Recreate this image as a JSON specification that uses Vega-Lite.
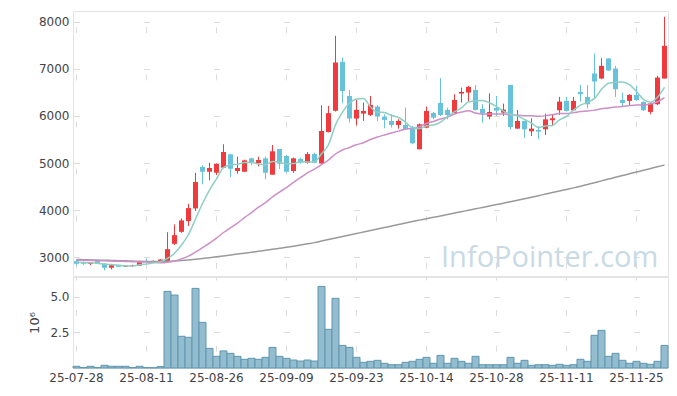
{
  "$schema": "https://vega.github.io/schema/vega-lite/v6.json",
  "padding": {"left": 28, "top": 10, "right": 5, "bottom": 5},
  "spacing": -2,
  "config": {
    "font": "DejaVu Sans",
    "view": {"stroke": "#e3e3e3"},
    "axis": {"labelFont": "DejaVu Sans", "labelFontSize": 12, "labelColor": "#444444", "domain": false, "ticks": false, "gridColor": "#dcdcdc", "gridWidth": 1, "labelPadding": 4}
  },
  "datasets": {
    "k": [
      {"d":"25-07-28","o":2915,"h":2950,"l":2825,"c":2860,"m5":2890,"m20":2935,"m120":2950,"v":0.12},
      {"d":"25-07-29","o":2890,"h":2910,"l":2830,"c":2860,"m5":2885,"m20":2932,"m120":2946,"v":0.03},
      {"d":"25-07-30","o":2860,"h":2895,"l":2830,"c":2890,"m5":2880,"m20":2929,"m120":2942,"v":0.12},
      {"d":"25-07-31","o":2930,"h":2940,"l":2850,"c":2860,"m5":2870,"m20":2926,"m120":2938,"v":0.04},
      {"d":"25-08-01","o":2865,"h":2870,"l":2720,"c":2775,"m5":2849,"m20":2922,"m120":2934,"v":0.19},
      {"d":"25-08-04","o":2775,"h":2835,"l":2740,"c":2830,"m5":2843,"m20":2918,"m120":2930,"v":0.12},
      {"d":"25-08-05","o":2835,"h":2840,"l":2790,"c":2795,"m5":2830,"m20":2914,"m120":2926,"v":0.12},
      {"d":"25-08-06","o":2800,"h":2830,"l":2790,"c":2825,"m5":2817,"m20":2910,"m120":2922,"v":0.12},
      {"d":"25-08-07","o":2810,"h":2840,"l":2800,"c":2830,"m5":2811,"m20":2905,"m120":2918,"v":0.03},
      {"d":"25-08-08","o":2820,"h":2920,"l":2815,"c":2915,"m5":2839,"m20":2900,"m120":2914,"v":0.12},
      {"d":"25-08-11","o":2920,"h":2970,"l":2900,"c":2910,"m5":2855,"m20":2895,"m120":2910,"v":0.03},
      {"d":"25-08-12","o":2915,"h":2930,"l":2905,"c":2920,"m5":2880,"m20":2888,"m120":2908,"v":0.02},
      {"d":"25-08-13","o":2910,"h":2955,"l":2905,"c":2950,"m5":2905,"m20":2882,"m120":2908,"v":0.10},
      {"d":"25-08-14","o":2915,"h":3530,"l":2910,"c":3170,"m5":2973,"m20":2893,"m120":2912,"v":5.39},
      {"d":"25-08-18","o":3283,"h":3695,"l":3260,"c":3468,"m5":3084,"m20":2920,"m120":2920,"v":5.13},
      {"d":"25-08-19","o":3538,"h":3823,"l":3517,"c":3781,"m5":3258,"m20":2964,"m120":2930,"v":2.23},
      {"d":"25-08-20","o":3766,"h":4135,"l":3660,"c":4043,"m5":3482,"m20":3021,"m120":2942,"v":2.16},
      {"d":"25-08-21","o":4036,"h":4790,"l":3980,"c":4596,"m5":3812,"m20":3106,"m120":2956,"v":5.60},
      {"d":"25-08-22","o":4915,"h":4951,"l":4547,"c":4815,"m5":4141,"m20":3202,"m120":2972,"v":3.21},
      {"d":"25-08-25","o":4815,"h":5007,"l":4632,"c":4894,"m5":4426,"m20":3299,"m120":2990,"v":1.38},
      {"d":"25-08-26","o":4794,"h":4993,"l":4745,"c":4979,"m5":4665,"m20":3405,"m120":3008,"v":0.82},
      {"d":"25-08-27","o":4900,"h":5398,"l":4900,"c":5234,"m5":4904,"m20":3524,"m120":3027,"v":1.20},
      {"d":"25-08-28","o":5185,"h":5200,"l":4702,"c":4879,"m5":4960,"m20":3623,"m120":3046,"v":1.03},
      {"d":"25-08-29","o":4830,"h":5135,"l":4773,"c":4894,"m5":4976,"m20":3725,"m120":3065,"v":0.82},
      {"d":"25-09-01","o":4815,"h":5071,"l":4815,"c":5057,"m5":5009,"m20":3839,"m120":3085,"v":0.61},
      {"d":"25-09-02","o":5100,"h":5114,"l":4950,"c":5007,"m5":5014,"m20":3948,"m120":3105,"v":0.68},
      {"d":"25-09-03","o":5000,"h":5135,"l":4930,"c":5064,"m5":4980,"m20":4061,"m120":3125,"v":0.61},
      {"d":"25-09-04","o":5100,"h":5135,"l":4653,"c":4794,"m5":4963,"m20":4160,"m120":3146,"v":0.75},
      {"d":"25-09-05","o":4752,"h":5384,"l":4752,"c":5249,"m5":5034,"m20":4281,"m120":3167,"v":1.45},
      {"d":"25-09-08","o":5298,"h":5298,"l":4872,"c":4986,"m5":5020,"m20":4384,"m120":3189,"v":0.82},
      {"d":"25-09-09","o":5149,"h":5170,"l":4794,"c":4815,"m5":4982,"m20":4479,"m120":3211,"v":0.68},
      {"d":"25-09-10","o":4830,"h":5114,"l":4794,"c":5100,"m5":4989,"m20":4588,"m120":3234,"v":0.56},
      {"d":"25-09-11","o":5085,"h":5114,"l":4986,"c":5007,"m5":5031,"m20":4691,"m120":3258,"v":0.49},
      {"d":"25-09-12","o":5007,"h":5235,"l":4986,"c":5190,"m5":5020,"m20":4792,"m120":3283,"v":0.56},
      {"d":"25-09-15","o":5190,"h":5221,"l":4994,"c":5007,"m5":5024,"m20":4869,"m120":3309,"v":0.49},
      {"d":"25-09-16","o":4990,"h":6228,"l":4985,"c":5680,"m5":5197,"m20":4964,"m120":3342,"v":5.74},
      {"d":"25-09-17","o":5660,"h":6215,"l":5650,"c":6060,"m5":5389,"m20":5065,"m120":3374,"v":2.72},
      {"d":"25-09-18","o":6110,"h":7703,"l":6093,"c":7136,"m5":5815,"m20":5192,"m120":3406,"v":4.90},
      {"d":"25-09-19","o":7150,"h":7242,"l":6270,"c":6530,"m5":6083,"m20":5278,"m120":3438,"v":1.59},
      {"d":"25-09-22","o":6425,"h":6554,"l":5859,"c":5945,"m5":6270,"m20":5330,"m120":3470,"v":1.45},
      {"d":"25-09-23","o":5945,"h":6341,"l":5802,"c":6130,"m5":6360,"m20":5388,"m120":3502,"v":0.75},
      {"d":"25-09-24","o":6050,"h":6285,"l":5895,"c":6107,"m5":6370,"m20":5431,"m120":3534,"v":0.40},
      {"d":"25-09-25","o":6022,"h":6426,"l":6000,"c":6235,"m5":6189,"m20":5499,"m120":3566,"v":0.47},
      {"d":"25-09-26","o":6200,"h":6228,"l":5895,"c":5987,"m5":6081,"m20":5554,"m120":3598,"v":0.54},
      {"d":"25-09-29","o":5987,"h":6036,"l":5738,"c":5916,"m5":6075,"m20":5597,"m120":3630,"v":0.33},
      {"d":"25-09-30","o":5894,"h":6036,"l":5753,"c":5809,"m5":6011,"m20":5637,"m120":3662,"v":0.23},
      {"d":"25-10-01","o":5809,"h":5930,"l":5731,"c":5894,"m5":5968,"m20":5678,"m120":3694,"v":0.23},
      {"d":"25-10-02","o":5809,"h":6178,"l":5703,"c":5717,"m5":5865,"m20":5724,"m120":3726,"v":0.40},
      {"d":"25-10-10","o":5753,"h":5788,"l":5398,"c":5420,"m5":5751,"m20":5733,"m120":3757,"v":0.47},
      {"d":"25-10-13","o":5292,"h":5838,"l":5290,"c":5824,"m5":5733,"m20":5775,"m120":3787,"v":0.61},
      {"d":"25-10-14","o":5752,"h":6199,"l":5738,"c":6106,"m5":5792,"m20":5840,"m120":3817,"v":0.75},
      {"d":"25-10-15","o":6064,"h":6085,"l":5929,"c":5965,"m5":5806,"m20":5883,"m120":3847,"v":0.33},
      {"d":"25-10-16","o":6277,"h":6802,"l":6000,"c":6021,"m5":5867,"m20":5934,"m120":3877,"v":0.89},
      {"d":"25-10-17","o":6128,"h":6177,"l":5929,"c":6021,"m5":5987,"m20":5975,"m120":3907,"v":0.33},
      {"d":"25-10-20","o":6064,"h":6461,"l":6050,"c":6340,"m5":6091,"m20":6042,"m120":3937,"v":0.68},
      {"d":"25-10-21","o":6475,"h":6603,"l":6284,"c":6511,"m5":6172,"m20":6083,"m120":3967,"v":0.47},
      {"d":"25-10-22","o":6497,"h":6638,"l":6298,"c":6617,"m5":6302,"m20":6111,"m120":3997,"v":0.33},
      {"d":"25-10-23","o":6553,"h":6660,"l":6114,"c":6128,"m5":6323,"m20":6061,"m120":4027,"v":0.82},
      {"d":"25-10-24","o":6149,"h":6248,"l":5858,"c":6057,"m5":6331,"m20":6037,"m120":4057,"v":0.23},
      {"d":"25-10-27","o":5986,"h":6482,"l":5929,"c":6085,"m5":6280,"m20":6044,"m120":4087,"v":0.23},
      {"d":"25-10-28","o":6170,"h":6426,"l":6000,"c":6114,"m5":6200,"m20":6043,"m120":4117,"v":0.23},
      {"d":"25-10-29","o":6071,"h":6262,"l":6000,"c":6135,"m5":6104,"m20":6045,"m120":4147,"v":0.23},
      {"d":"25-10-30","o":6660,"h":6660,"l":5716,"c":5766,"m5":6031,"m20":6021,"m120":4177,"v":0.75},
      {"d":"25-10-31","o":5731,"h":6128,"l":5731,"c":5894,"m5":5999,"m20":6017,"m120":4208,"v":0.33},
      {"d":"25-11-03","o":5894,"h":5894,"l":5532,"c":5716,"m5":5925,"m20":6007,"m120":4241,"v":0.54},
      {"d":"25-11-04","o":5674,"h":5950,"l":5574,"c":5731,"m5":5848,"m20":6003,"m120":4274,"v":0.19},
      {"d":"25-11-05","o":5702,"h":5780,"l":5504,"c":5667,"m5":5755,"m20":5992,"m120":4307,"v":0.23},
      {"d":"25-11-06","o":5716,"h":6050,"l":5596,"c":5929,"m5":5787,"m20":6002,"m120":4340,"v":0.23},
      {"d":"25-11-07","o":5909,"h":6022,"l":5788,"c":5951,"m5":5799,"m20":6029,"m120":4373,"v":0.19},
      {"d":"25-11-10","o":6121,"h":6405,"l":6020,"c":6306,"m5":5917,"m20":6053,"m120":4406,"v":0.26},
      {"d":"25-11-11","o":6320,"h":6405,"l":6093,"c":6107,"m5":5992,"m20":6053,"m120":4439,"v":0.19},
      {"d":"25-11-12","o":6121,"h":6405,"l":6107,"c":6320,"m5":6123,"m20":6071,"m120":4472,"v":0.23},
      {"d":"25-11-13","o":6511,"h":6660,"l":6306,"c":6462,"m5":6229,"m20":6093,"m120":4507,"v":0.61},
      {"d":"25-11-14","o":6405,"h":6660,"l":6164,"c":6249,"m5":6289,"m20":6104,"m120":4545,"v":0.47},
      {"d":"25-11-17","o":6902,"h":7327,"l":6391,"c":6731,"m5":6374,"m20":6124,"m120":4583,"v":2.30},
      {"d":"25-11-18","o":6795,"h":7228,"l":6781,"c":7065,"m5":6565,"m20":6152,"m120":4621,"v":2.65},
      {"d":"25-11-19","o":7221,"h":7230,"l":6960,"c":6965,"m5":6694,"m20":6169,"m120":4659,"v":0.82},
      {"d":"25-11-20","o":7008,"h":7065,"l":6405,"c":6568,"m5":6716,"m20":6191,"m120":4697,"v":1.03},
      {"d":"25-11-21","o":6341,"h":6497,"l":6192,"c":6277,"m5":6721,"m20":6202,"m120":4734,"v":0.54},
      {"d":"25-11-24","o":6320,"h":6462,"l":6213,"c":6448,"m5":6665,"m20":6220,"m120":4771,"v":0.33},
      {"d":"25-11-25","o":6448,"h":6639,"l":6320,"c":6341,"m5":6520,"m20":6231,"m120":4808,"v":0.47},
      {"d":"25-11-26","o":6299,"h":6305,"l":6107,"c":6121,"m5":6351,"m20":6231,"m120":4846,"v":0.33},
      {"d":"25-11-27","o":6086,"h":6284,"l":6036,"c":6263,"m5":6290,"m20":6256,"m120":4883,"v":0.26},
      {"d":"25-11-28","o":6249,"h":6852,"l":6235,"c":6816,"m5":6398,"m20":6302,"m120":4920,"v":0.47},
      {"d":"25-12-01","o":6795,"h":8107,"l":6795,"c":7490,"m5":6606,"m20":6390,"m120":4958,"v":1.59}
    ]
  },
  "vconcat": [
    {
      "width": 595,
      "height": 265,
      "data": {"name": "k"},
      "encoding": {
        "x": {
          "field": "d", "type": "ordinal",
          "scale": {"paddingInner": 0, "paddingOuter": 0},
          "axis": {"labels": false, "title": null, "grid": true, "bandPosition": 0.5,
                   "values": ["25-07-28","25-08-11","25-08-26","25-09-09","25-09-23","25-10-14","25-10-28","25-11-11","25-11-25"],
                   "gridDash": [6, 41.07], "gridDashOffset": 31.27}
        }
      },
      "layer": [
        {
          "data": {"values": [{"t": "InfoPointer.com"}]},
          "mark": {"type": "text", "font": "Open Sans", "fontSize": 29, "color": "#c8dae4", "align": "left", "baseline": "alphabetic", "dx": -6.5},
          "encoding": {
            "x": {"datum": "25-10-17", "type": "ordinal"},
            "y": {"datum": 2791, "type": "quantitative"},
            "text": {"field": "t"}
          }
        },
        {
          "mark": {"type": "rule", "strokeWidth": 1},
          "encoding": {
            "y": {"field": "l", "type": "quantitative", "title": null,
                  "scale": {"domain": [2600, 8230], "nice": false, "zero": false},
                  "axis": {"values": [3000, 4000, 5000, 6000, 7000, 8000], "format": "d", "title": null, "grid": true, "gridDash": [6, 64], "gridDashOffset": 69.5}},
            "y2": {"field": "h"},
            "color": {"condition": {"test": "datum.c >= datum.o", "value": "#ef3b3e"}, "value": "#68c2da"}
          }
        },
        {
          "mark": {"type": "bar", "width": {"band": 0.72}},
          "encoding": {
            "y": {"field": "o", "type": "quantitative", "title": null},
            "y2": {"field": "c"},
            "color": {"condition": {"test": "datum.c >= datum.o", "value": "#ef3b3e"}, "value": "#68c2da"}
          }
        },
        {
          "mark": {"type": "line", "color": "#9a9a9a", "strokeWidth": 1.5, "interpolate": "monotone"},
          "encoding": {"y": {"field": "m120", "type": "quantitative", "title": null}}
        },
        {
          "mark": {"type": "line", "color": "#cc8fc8", "strokeWidth": 1.5, "interpolate": "monotone"},
          "encoding": {"y": {"field": "m20", "type": "quantitative", "title": null}}
        },
        {
          "mark": {"type": "line", "color": "#8ecfc4", "strokeWidth": 1.5, "interpolate": "monotone"},
          "encoding": {"y": {"field": "m5", "type": "quantitative", "title": null}}
        }
      ]
    },
    {
      "width": 595,
      "height": 91,
      "data": {"name": "k"},
      "mark": {"type": "bar", "fill": "#94bccf", "stroke": "#5e96b0", "strokeWidth": 1},
      "encoding": {
        "x": {
          "field": "d", "type": "ordinal",
          "scale": {"paddingInner": 0, "paddingOuter": 0},
          "axis": {"title": null, "labelAngle": 0, "grid": true, "bandPosition": 0.5, "labelPadding": 4,
                   "values": ["25-07-28","25-08-11","25-08-26","25-09-09","25-09-23","25-10-14","25-10-28","25-11-11","25-11-25"],
                   "gridDash": [6, 29.55], "gridDashOffset": 3}
        },
        "y": {
          "field": "v", "type": "quantitative",
          "scale": {"domain": [0, 6.4], "nice": false},
          "axis": {"values": [2.5, 5], "format": ".1f", "title": "10⁶", "titleFontWeight": "normal", "titleFontSize": 13, "titleColor": "#444444", "titlePadding": 8,
                   "grid": true, "gridDash": [6, 64], "gridDashOffset": 69.5}
        }
      }
    }
  ]
}
